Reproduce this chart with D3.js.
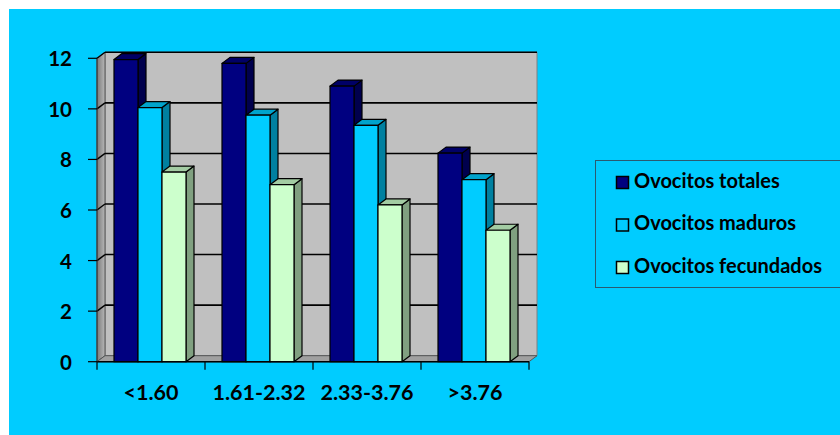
<!DOCTYPE html>
<html><head><meta charset="utf-8">
<script src="https://cdn.jsdelivr.net/npm/d3@7"></script>
<style>html,body{margin:0;padding:0;background:#fff;overflow:hidden}</style>
</head><body>
<svg id="c" width="840" height="435"></svg>
<script>
const categories = ["<1.60", "1.61-2.32", "2.33-3.76", ">3.76"];
const seriesNames = ["Ovocitos totales", "Ovocitos maduros", "Ovocitos fecundados"];
const totales = [11.95, 11.8, 10.9, 8.25];
const maduros = [10.05, 9.75, 9.35, 7.2];
const fecundados = [7.5, 7.0, 6.2, 5.2];
const yTicks = [0, 2, 4, 6, 8, 10, 12];

const seriesValues = [totales, maduros, fecundados];
const front = ["#000080", "#00CCFF", "#CCFFCC"];
const top_ = ["#000066", "#00A3CC", "#A3CCA3"];
const side = ["#00004D", "#0080A0", "#80A080"];

const svg = d3.select("#c");
svg.append("rect").attr("x", 9).attr("y", 9).attr("width", 831).attr("height", 426).attr("fill", "#00CCFF");

const FONT = "Lato, 'Open Sans', sans-serif";
const dx = 8, dy = -6;
const x = d3.scaleBand().domain(categories).range([97, 529]);
const y = d3.scaleLinear().domain([0, 12]).range([361.7, 58.3]);
const xs = d3.scaleBand().domain(seriesNames).range([17, 89]);

const g = svg.append("g");
const L = x.range()[0], R = x.range()[1];
const y0 = y(0), yT = y(12);
// back wall
g.append("polygon").attr("points", [[L+dx, yT+dy],[R+dx, yT+dy],[R+dx, y0+dy],[L+dx, y0+dy]].join(" "))
  .attr("fill", "#C0C0C0").attr("stroke", "#808080").attr("stroke-width", 1);
// left wall
const lg = svg.append("defs").append("linearGradient").attr("id", "lw");
lg.append("stop").attr("offset", "0%").attr("stop-color", "#7a7a7a");
lg.append("stop").attr("offset", "100%").attr("stop-color", "#b8b8b8");
g.append("polygon").attr("points", [[L, yT],[L+dx, yT+dy],[L+dx, y0+dy],[L, y0]].join(" "))
  .attr("fill", "url(#lw)").attr("stroke", "#555").attr("stroke-width", 1);
// floor
g.append("polygon").attr("points", [[L, y0],[R, y0],[R+dx, y0+dy],[L+dx, y0+dy]].join(" "))
  .attr("fill", "#A0A0A0").attr("stroke", "#555").attr("stroke-width", 1);
// gridlines
yTicks.filter(t => t > 0).forEach(t => {
  g.append("line").attr("x1", L+dx).attr("x2", R+dx).attr("y1", y(t)+dy).attr("y2", y(t)+dy)
    .attr("stroke", "#000").attr("stroke-width", 1.6);
  g.append("line").attr("x1", L).attr("x2", L+dx).attr("y1", y(t)).attr("y2", y(t)+dy)
    .attr("stroke", "#000").attr("stroke-width", 1.4);
});

// bars
categories.forEach((c, ci) => {
  seriesNames.forEach((s, si) => {
    const v = seriesValues[si][ci];
    const bx = x(c) + xs(s), bw = xs.bandwidth();
    const by = y(v);
    const bg = g.append("g").attr("stroke", "#000").attr("stroke-width", 1.2).attr("stroke-linejoin", "round");
    bg.append("polygon").attr("points", [[bx+bw, by],[bx+bw+dx, by+dy],[bx+bw+dx, y0+dy],[bx+bw, y0]].join(" ")).attr("fill", side[si]);
    bg.append("polygon").attr("points", [[bx, by],[bx+dx, by+dy],[bx+bw+dx, by+dy],[bx+bw, by]].join(" ")).attr("fill", top_[si]);
    bg.append("rect").attr("x", bx).attr("y", by).attr("width", bw).attr("height", y0 - by).attr("fill", front[si]);
  });
});

// axes
g.append("line").attr("x1", L).attr("x2", R).attr("y1", y0).attr("y2", y0).attr("stroke", "#000").attr("stroke-width", 1.4);
g.append("line").attr("x1", L).attr("x2", L).attr("y1", yT).attr("y2", y0).attr("stroke", "#333").attr("stroke-width", 1);
yTicks.forEach(t => {
  g.append("line").attr("x1", 88).attr("x2", L).attr("y1", y(t)).attr("y2", y(t)).attr("stroke", "#000").attr("stroke-width", 1.2);
  g.append("text").attr("x", 72).attr("y", y(t) + 8).attr("text-anchor", "end")
    .attr("font-family", FONT).attr("font-weight", "bold").attr("font-size", 20.5).attr("fill", "#000").text(t);
});
x.domain().concat(["__end"]).forEach((c, i) => {
  const xx = i < categories.length ? x(c) : R;
  g.append("line").attr("x1", xx).attr("x2", xx).attr("y1", y0).attr("y2", y0 + 8).attr("stroke", "#000").attr("stroke-width", 1.2);
});
categories.forEach(c => {
  g.append("text").attr("x", x(c) + x.bandwidth()/2).attr("y", 399.5).attr("text-anchor", "middle")
    .attr("font-family", FONT).attr("font-weight", "bold").attr("font-size", 21.5).attr("fill", "#000").text(c);
});

// legend
const lgG = svg.append("g");
lgG.append("rect").attr("x", 595.5).attr("y", 160.5).attr("width", 260).attr("height", 127)
  .attr("fill", "none").attr("stroke", "#2A5A70").attr("stroke-width", 1);
seriesNames.forEach((s, i) => {
  const ly = 176 + i * 42.5;
  lgG.append("rect").attr("x", 616.5).attr("y", ly + 0.5).attr("width", 12).attr("height", 12)
    .attr("fill", front[i]).attr("stroke", "#000").attr("stroke-width", 1.5);
  lgG.append("text").attr("x", 634).attr("y", ly + 11.5)
    .attr("font-family", FONT).attr("font-weight", "bold").attr("font-size", 20).attr("fill", "#000").text(s);
});
</script>
</body></html>
